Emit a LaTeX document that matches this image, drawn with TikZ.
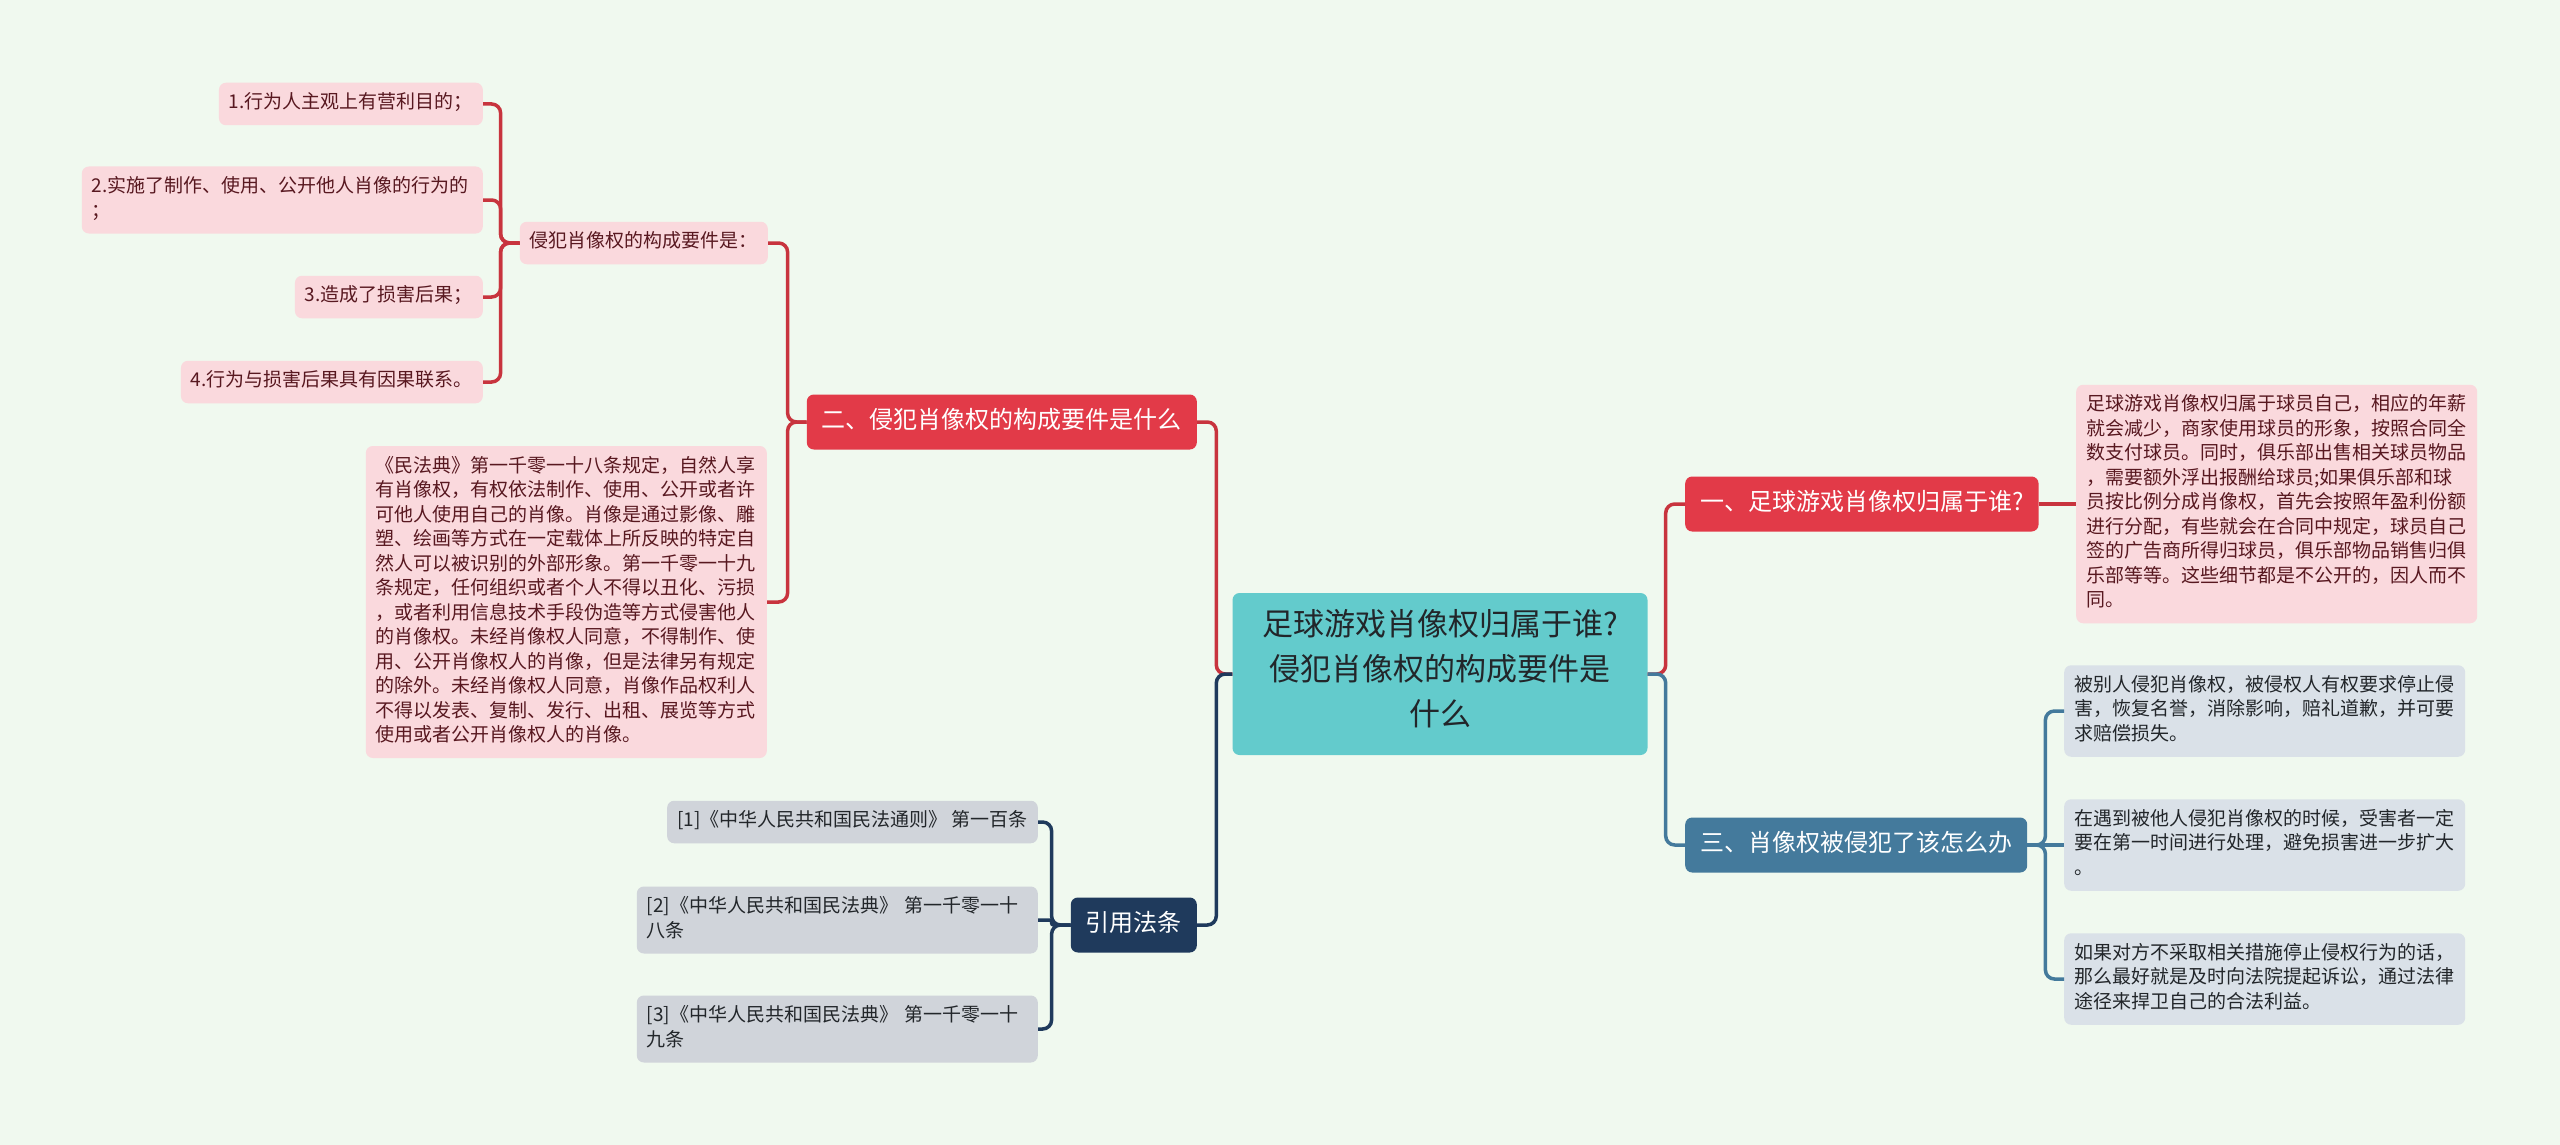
\documentclass[tikz,border=0pt]{standalone}
\usepackage{fontspec}
\setmainfont{Noto Sans CJK SC}
\usepackage{xcolor}
\usepackage{tikz}

\definecolor{fondo}{RGB}{240,249,239}
\definecolor{rosado}{RGB}{250,217,221}
\definecolor{vino}{RGB}{88,24,32}
\definecolor{rojizo}{RGB}{226,58,72}
\definecolor{linroja}{RGB}{200,52,62}
\definecolor{turquesa}{RGB}{99,203,204}
\definecolor{azulado}{RGB}{68,122,156}
\definecolor{marino}{RGB}{31,58,92}
\definecolor{grisaceo}{RGB}{208,212,218}
\definecolor{grisazul}{RGB}{218,225,232}
\definecolor{tinta}{RGB}{34,38,42}

\begin{document}
\begin{tikzpicture}[
  x=1pt, y=-1pt,
  nodo/.style={rounded corners=7pt, inner xsep=10pt, inner ysep=9pt, align=left,
    font=\fontsize{19}{24.5}\selectfont,
    execute at begin node=\strut, execute at end node=\strut},
  hoja/.style={nodo, fill=rosado, text=vino},
  hojagris/.style={nodo, fill=grisaceo, text=tinta},
  hojaazul/.style={nodo, fill=grisazul, text=tinta},
  tema/.style={nodo, text=white, inner xsep=15pt, minimum height=55pt,
    font=\fontsize{24}{30}\selectfont},
  rojo/.style={tema, fill=rojizo},
  azul/.style={tema, fill=azulado},
  oscuro/.style={tema, fill=marino},
  centro/.style={nodo, fill=turquesa, text=tinta, align=center,
    minimum width=415pt, minimum height=162pt,
    font=\fontsize{31}{45}\selectfont},
  enlace/.style={line width=3.5pt, rounded corners=9pt},
  lrojo/.style={enlace, draw=linroja},
  lazul/.style={enlace, draw=azulado},
  lmarino/.style={enlace, draw=marino}
]
  \fill[fondo] (0,0) rectangle (2560,1145);

  \node[centro] (root) at (1440,674) {足球游戏肖像权归属于谁?\\侵犯肖像权的构成要件是\\什么};

  \node[rojo, anchor=east]   (er)  at (1197,422) {二、侵犯肖像权的构成要件是什么};
  \node[oscuro, anchor=east] (yin) at (1197,925) {引用法条};
  \node[rojo, anchor=west]   (yi)  at (1685,504) {一、足球游戏肖像权归属于谁?};
  \node[azul, anchor=west]   (san) at (1685,845) {三、肖像权被侵犯了该怎么办};

  \node[hoja, anchor=east] (req) at (768,243) {侵犯肖像权的构成要件是：};
  \node[hoja, anchor=east] (r1) at (483,104) {1.行为人主观上有营利目的；};
  \node[hoja, anchor=east, text width=381pt] (r2) at (483,200) {2.实施了制作、使用、公开他人肖像的行为的\\；};
  \node[hoja, anchor=east] (r3) at (483,297) {3.造成了损害后果；};
  \node[hoja, anchor=east] (r4) at (483,382) {4.行为与损害后果具有因果联系。};

  \node[hoja, anchor=east, text width=381pt] (civil) at (767,602) {《民法典》第一千零一十八条规定，自然人享\\有肖像权，有权依法制作、使用、公开或者许\\可他人使用自己的肖像。肖像是通过影像、雕\\塑、绘画等方式在一定载体上所反映的特定自\\然人可以被识别的外部形象。第一千零一十九\\条规定，任何组织或者个人不得以丑化、污损\\，或者利用信息技术手段伪造等方式侵害他人\\的肖像权。未经肖像权人同意，不得制作、使\\用、公开肖像权人的肖像，但是法律另有规定\\的除外。未经肖像权人同意，肖像作品权利人\\不得以发表、复制、发行、出租、展览等方式\\使用或者公开肖像权人的肖像。};

  \node[hojagris, anchor=east] (l1) at (1038,822) {[1]《中华人民共和国民法通则》 第一百条};
  \node[hojagris, anchor=east, text width=381pt] (l2) at (1038,920) {[2]《中华人民共和国民法典》 第一千零一十\\八条};
  \node[hojagris, anchor=east, text width=381pt] (l3) at (1038,1029) {[3]《中华人民共和国民法典》 第一千零一十\\九条};

  \node[hoja, anchor=west, text width=381pt] (own) at (2076,504) {足球游戏肖像权归属于球员自己，相应的年薪\\就会减少，商家使用球员的形象，按照合同全\\数支付球员。同时，俱乐部出售相关球员物品\\，需要额外浮出报酬给球员;如果俱乐部和球\\员按比例分成肖像权，首先会按照年盈利份额\\进行分配，有些就会在合同中规定，球员自己\\签的广告商所得归球员，俱乐部物品销售归俱\\乐部等等。这些细节都是不公开的，因人而不\\同。};

  \node[hojaazul, anchor=west, text width=381pt] (s1) at (2064,711) {被别人侵犯肖像权，被侵权人有权要求停止侵\\害，恢复名誉，消除影响，赔礼道歉，并可要\\求赔偿损失。};
  \node[hojaazul, anchor=west, text width=381pt] (s2) at (2064,845) {在遇到被他人侵犯肖像权的时候，受害者一定\\要在第一时间进行处理，避免损害进一步扩大\\。};
  \node[hojaazul, anchor=west, text width=381pt] (s3) at (2064,979) {如果对方不采取相关措施停止侵权行为的话，\\那么最好就是及时向法院提起诉讼，通过法律\\途径来捍卫自己的合法利益。};

  \draw[lrojo] (root.west) -- ++(-16,0) |- (er.east);
  \draw[lmarino] (root.west) -- ++(-16,0) |- (yin.east);
  \draw[lrojo] (root.east) -- ++(18,0) |- (yi.west);
  \draw[lazul] (root.east) -- ++(18,0) |- (san.west);

  \draw[lrojo] (er.west) -- ++(-19,0) |- (req.east);
  \draw[lrojo] (er.west) -- ++(-19,0) |- (civil.east);
  \foreach \n in {r1,r2,r3,r4}
    \draw[lrojo] (req.west) -- ++(-19,0) |- (\n.east);

  \draw[lmarino] (yin.west) -- ++(-19,0) |- (l1.east);
  \draw[lmarino, rounded corners=2pt] (yin.west) -- ++(-19,0) |- (l2.east);
  \draw[lmarino] (yin.west) -- ++(-19,0) |- (l3.east);

  \draw[lrojo] (yi.east) -- (own.west);

  \draw[lazul] (san.east) -- ++(18,0) |- (s1.west);
  \draw[lazul] (san.east) -- (s2.west);
  \draw[lazul] (san.east) -- ++(18,0) |- (s3.west);
\end{tikzpicture}
\end{document}
